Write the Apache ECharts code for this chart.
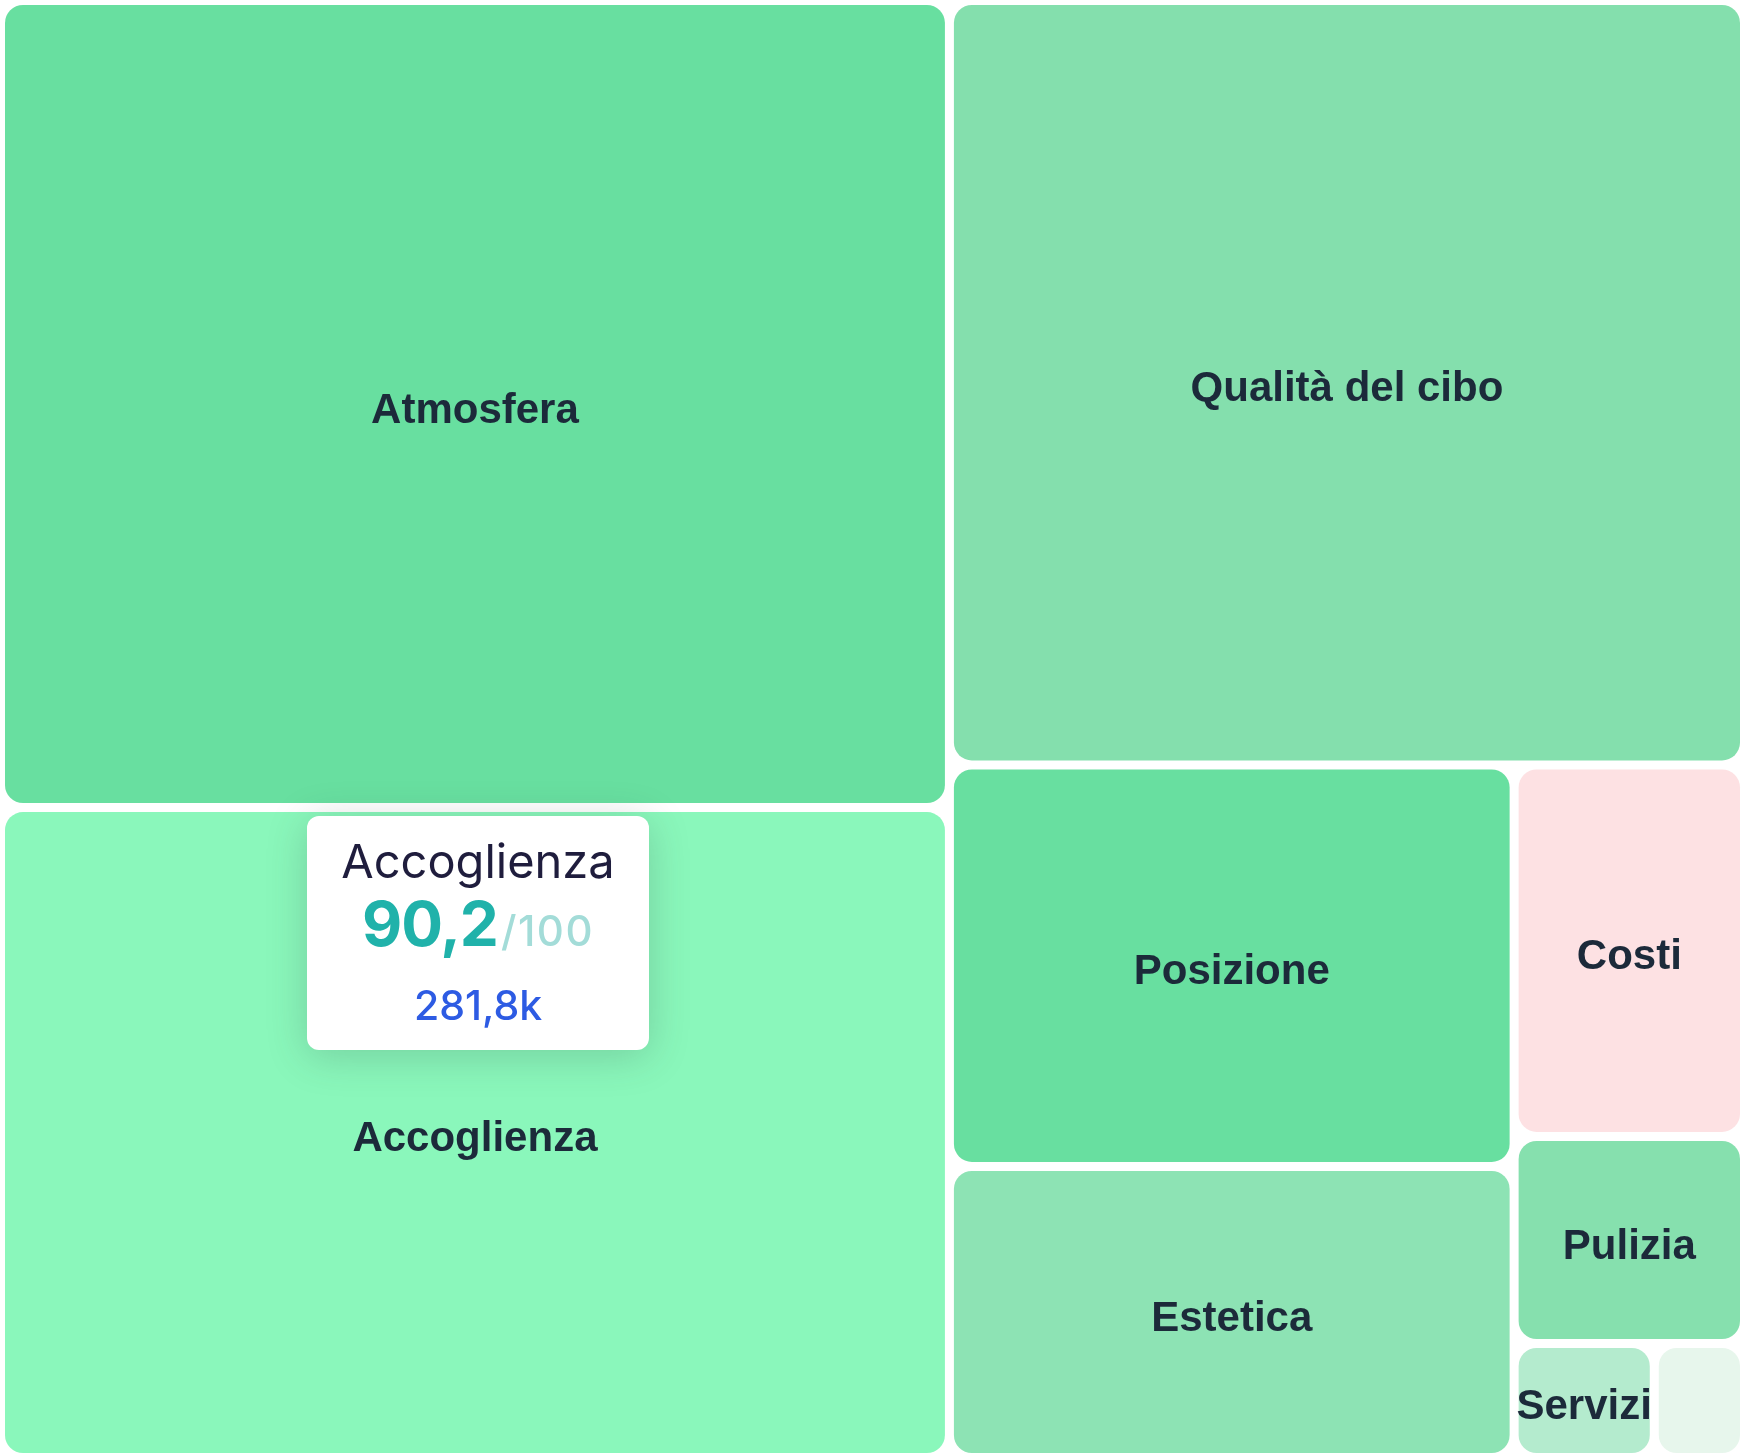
<!DOCTYPE html>
<html>
<head>
<meta charset="utf-8">
<script src="https://cdn.jsdelivr.net/npm/echarts@6/dist/echarts.min.js"></script>
<style>
  html, body { margin: 0; padding: 0; background: #ffffff; }
  #chart { width: 1742px; height: 1456px; }
</style>
</head>
<body>
<div id="chart"></div>
<script>
// Categories and values (mentions)
const categories = ['Atmosfera', 'Accoglienza', 'Qualità del cibo', 'Posizione', 'Estetica', 'Costi', 'Pulizia', 'Servizi', 'Altro'];
const mentions   = [349900, 281800, 277700, 103600, 75100, 39100, 21800, 7300, 4700];
// Score out of 100 (only the one shown in the tooltip is readable)
const scores     = [null, 90.2, null, null, null, null, null, null, null];
const tileColors = ['#68dfa0', '#8af7bb', '#84dfad', '#68dfa0', '#8de3b4', '#fde1e3', '#86e0ae', '#b4ebce', '#e7f6ec'];
const showLabel  = [true, true, true, true, true, true, true, true, false];
const tooltipIndex = 1; // Accoglienza

function fmtNum(v, digits) {
  return v.toFixed(digits).replace('.', ',');
}
function fmtK(v) {
  return fmtNum(v / 1000, 1) + 'k';
}

const data = categories.map((name, i) => ({
  name: name,
  value: mentions[i],
  itemStyle: { color: tileColors[i] },
  label: { show: showLabel[i] }
}));

const chart = echarts.init(document.getElementById('chart'), null, { renderer: 'canvas' });
chart.setOption({
  animation: false,
  backgroundColor: '#ffffff',
  tooltip: {
    trigger: 'item',
    triggerOn: 'none',
    alwaysShowContent: true,
    transitionDuration: 0,
    position: [307, 816],
    padding: 0,
    borderWidth: 0,
    borderColor: 'transparent',
    backgroundColor: '#ffffff',
    extraCssText: 'border-radius:12px;box-shadow:0 6px 40px rgba(40,70,60,0.22);',
    formatter: function (p) {
      const i = p.dataIndex - 1;
      const sc = scores[i];
      return '<div style="width:342px;height:234px;box-sizing:border-box;padding-top:19px;text-align:center;font-family:Inter,\'Noto Sans\',sans-serif;">' +
        '<div style="font-size:47px;line-height:52px;color:#1f1d3d;font-weight:400;">' + p.name + '</div>' +
        '<div style="font-size:62px;line-height:66px;margin-top:4px;">' +
          '<span style="font-size:62px;font-weight:700;color:#20b2aa;letter-spacing:-1px;">' + (sc == null ? '' : fmtNum(sc, 1)) + '</span>' +
          '<span style="font-size:42px;font-weight:500;color:#a3dcd8;letter-spacing:1.5px;margin-left:3px;">/100</span>' +
        '</div>' +
        '<div style="font-size:41px;line-height:50px;margin-top:16px;color:#2d5be3;font-weight:500;">' + fmtK(p.value) + '</div>' +
      '</div>';
    }
  },
  series: [{
    type: 'treemap',
    left: 5,
    top: 5,
    right: 2,
    bottom: 3,
    roam: false,
    nodeClick: false,
    breadcrumb: { show: false },
    squareRatio: 0.5 * (1 + Math.sqrt(5)),
    itemStyle: {
      gapWidth: 9,
      borderWidth: 0,
      borderRadius: 18
    },
    label: {
      show: true,
      position: 'inside',
      offset: [0, 7],
      color: '#1c2a3a',
      fontFamily: '"Liberation Sans", Arial, sans-serif',
      fontWeight: 'bold',
      fontSize: 42,
      overflow: 'none',
      padding: 0
    },
    emphasis: { disabled: true },
    data: data
  }]
});

chart.dispatchAction({ type: 'showTip', seriesIndex: 0, dataIndex: tooltipIndex + 1 });
</script>
</body>
</html>
